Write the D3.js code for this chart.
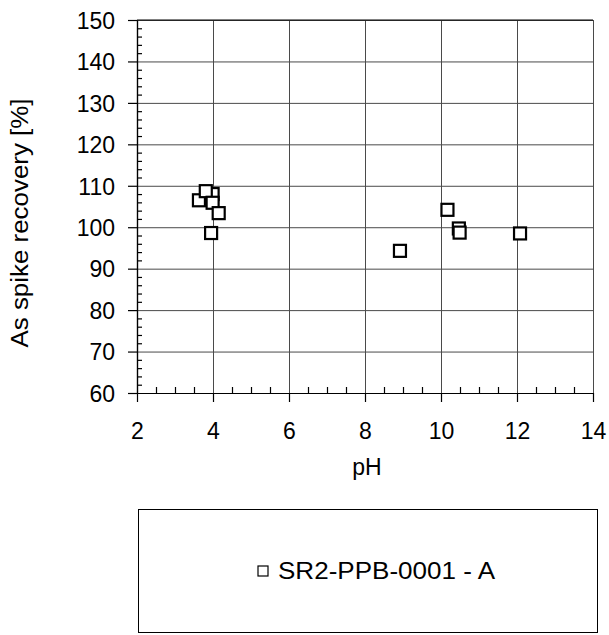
<!DOCTYPE html>
<html>
<head>
<meta charset="utf-8">
<script src="https://cdn.jsdelivr.net/npm/d3@7/dist/d3.min.js"></script>
<style>
  body { margin: 0; background: #fff; }
  svg { display: block; font-family: "Liberation Sans", Arial, sans-serif; }
  .grid line { stroke: #4a4a4a; stroke-width: 1; }
  .grid path { display: none; }
  .axis path, .axis line { stroke: #000; stroke-width: 1.2; }
  .axis text { font-size: 23px; fill: #000; }
</style>
</head>
<body>
<div id="chart"></div>
<script>

var xTicks = [ 2, 4, 6, 8, 10, 12, 14 ];
var yTicks = [ 60, 70, 80, 90, 100, 110, 120, 130, 140, 150 ];

// SR2-PPB-0001 - A
var phValues       = [ 3.63, 3.99, 3.81, 3.99, 4.15, 3.95, 8.92, 10.17, 10.47, 10.49, 12.08 ];
var recoveryValues = [ 106.5, 108.0, 108.7, 105.9, 103.4, 98.6, 94.3, 104.2, 99.7, 98.7, 98.5 ];
var seriesName = 'SR2-PPB-0001 - A';

var settings = {
  width: 609,
  height: 635,
  left: 137,
  right: 16,
  top: 20,
  bottom: 242
};

var svg = d3.select('#chart').append('svg')
  .attr('width', settings.width)
  .attr('height', settings.height);

var plotW = settings.width - settings.left - settings.right;
var plotH = settings.height - settings.top - settings.bottom;

var scaleX = d3.scaleLinear().domain([ 2, 14 ]).range([ 0, plotW ]);
var scaleY = d3.scaleLinear().domain([ 60, 150 ]).range([ plotH, 0 ]);

var plot = svg.append('g')
  .attr('transform', 'translate(' + settings.left + ',' + settings.top + ')');

// grid
plot.append('g')
  .classed('grid', true)
  .call( d3.axisLeft( scaleY ).tickValues( yTicks ).tickSize( -plotW ).tickFormat('') );
plot.append('g')
  .classed('grid', true)
  .attr('transform', 'translate(0,' + plotH + ')')
  .call( d3.axisBottom( scaleX ).tickValues( xTicks ).tickSize( -plotH ).tickFormat('') );

// top border
plot.append('line')
  .attr('x1', 0).attr('x2', plotW)
  .attr('y1', 0).attr('y2', 0)
  .attr('stroke', '#000');

// minor ticks, pointing inside
var minorX = d3.range( 2, 14.01, 0.5 ).filter( function( d ) { return d % 2 !== 0 } );
var minorY = d3.range( 60, 150.01, 2 ).filter( function( d ) { return d % 10 !== 0 } );

plot.append('g')
  .classed('axis', true)
  .attr('transform', 'translate(0,' + plotH + ')')
  .call( d3.axisTop( scaleX ).tickValues( minorX ).tickSize( 6 ).tickSizeOuter( 0 ).tickFormat('') );
plot.append('g')
  .classed('axis', true)
  .call( d3.axisRight( scaleY ).tickValues( minorY ).tickSize( 5 ).tickSizeOuter( 0 ).tickFormat('') );

// main axes
plot.append('g')
  .classed('axis', true)
  .attr('transform', 'translate(0,' + plotH + ')')
  .call( d3.axisBottom( scaleX ).tickValues( xTicks ).tickSize( 9 ).tickSizeOuter( 0 ).tickPadding( 21 ) );

var axisY = plot.append('g')
  .classed('axis', true)
  .call( d3.axisLeft( scaleY ).tickValues( yTicks ).tickSize( 9 ).tickSizeOuter( 0 ).tickPadding( 13 ) );

axisY.selectAll('.tick text').attr('dy', '0.36em');

// axis titles
svg.append('text')
  .attr('x', 367)
  .attr('y', 475)
  .attr('text-anchor', 'middle')
  .style('font-size', '23px')
  .text('pH');

svg.append('text')
  .attr('transform', 'translate(28,223) rotate(-90)')
  .attr('text-anchor', 'middle')
  .style('font-size', '23px')
  .attr('textLength', 249)
  .attr('lengthAdjust', 'spacingAndGlyphs')
  .text('As spike recovery [%]');

// points
var points = phValues.map( function( d, i ) { return { ph: d, val: recoveryValues[ i ] } });
var size = 12;

plot.selectAll('rect.point')
  .data( points )
  .enter()
  .append('rect')
  .classed('point', true)
  .attr('x', function( d ) { return scaleX( d.ph ) - size / 2 })
  .attr('y', function( d ) { return scaleY( d.val ) - size / 2 })
  .attr('width', size)
  .attr('height', size)
  .attr('fill', '#fff')
  .attr('stroke', '#000')
  .attr('stroke-width', 2.2);

// legend
var legend = svg.append('g');
legend.append('rect')
  .attr('x', 138.5).attr('y', 509.5)
  .attr('width', 459).attr('height', 123)
  .attr('fill', 'none')
  .attr('stroke', '#000')
  .attr('stroke-width', 1);
legend.append('rect')
  .attr('x', 258).attr('y', 566)
  .attr('width', 10).attr('height', 10)
  .attr('fill', '#fff')
  .attr('stroke', '#000')
  .attr('stroke-width', 1.2);
legend.append('text')
  .attr('x', 278)
  .attr('y', 579)
  .style('font-size', '23px')
  .attr('textLength', 217)
  .attr('lengthAdjust', 'spacingAndGlyphs')
  .text( seriesName );

</script>
</body>
</html>
